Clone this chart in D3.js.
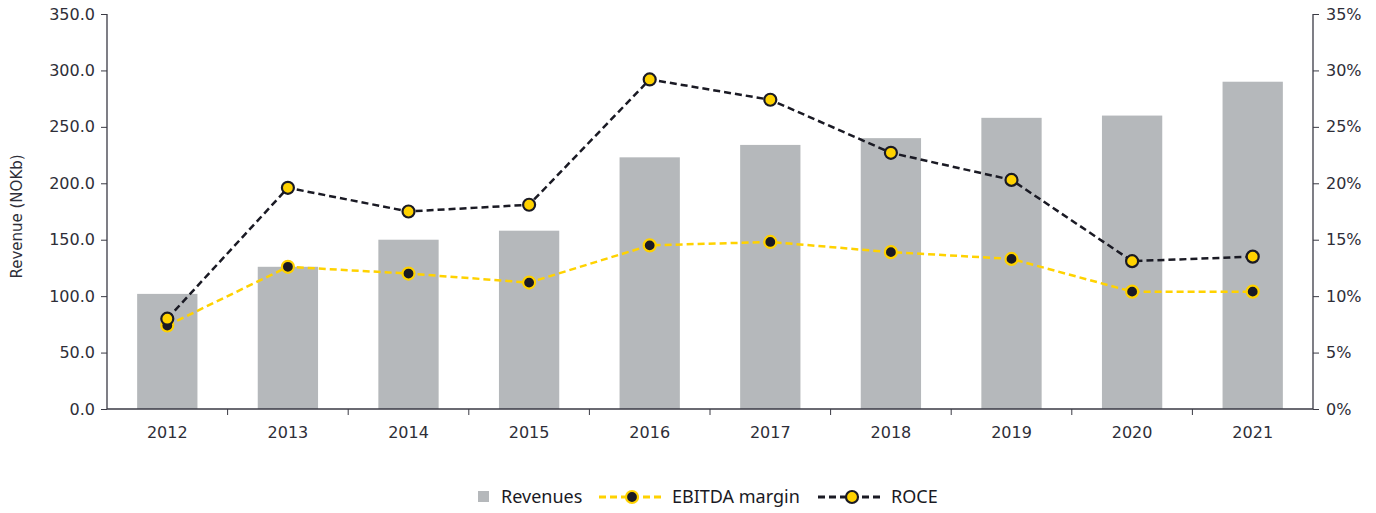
<!DOCTYPE html>
<html>
<head>
<meta charset="utf-8">
<script src="https://cdn.jsdelivr.net/npm/d3@7"></script>
<style>
  body { margin: 0; background: #fff; }
  svg text { font-family: "DejaVu Sans", Verdana, sans-serif; fill: #2e2e38; }
  .legend text { font-family: "Noto Sans", sans-serif; font-size: 18px; fill: #1a1a24; }
</style>
</head>
<body>
<svg id="chart" width="1376" height="513"></svg>
<script>
var years = ["2012","2013","2014","2015","2016","2017","2018","2019","2020","2021"];
var revenues = [102, 126, 150, 158, 223, 234, 240, 258, 260, 290];
var ebitdaMargin = [7.4, 12.6, 12.0, 11.2, 14.5, 14.8, 13.9, 13.3, 10.4, 10.4];
var roce = [8.0, 19.6, 17.5, 18.1, 29.2, 27.4, 22.7, 20.3, 13.1, 13.5];
var leftTicks = [0, 50, 100, 150, 200, 250, 300, 350];
var rightTicks = [0, 5, 10, 15, 20, 25, 30, 35];

var yellow = "#ffd200", dark = "#1a1a24", barGrey = "#b5b8bb", axisCol = "#3a3a44";

var m = {t:14, r:63, b:104, l:107},
    W = 1376, H = 513,
    w = W - m.l - m.r,
    h = H - m.t - m.b;

var svg = d3.select("#chart");
var g = svg.append("g").attr("transform", "translate(" + m.l + "," + m.t + ")");

var x = d3.scaleBand().domain(years).range([0, w]).paddingInner(0).paddingOuter(0);
var y = d3.scaleLinear().domain([0, 350]).range([h, 0]);
var y2 = d3.scaleLinear().domain([0, 35]).range([h, 0]);

// bars
g.selectAll(".bar")
  .data(years)
  .enter().append("rect")
  .attr("class", "bar")
  .attr("x", function(d) { return x(d) + x.bandwidth() * 0.25; })
  .attr("width", x.bandwidth() * 0.5)
  .attr("y", function(d, i) { return y(revenues[i]); })
  .attr("height", function(d, i) { return h - y(revenues[i]); })
  .attr("fill", barGrey);

// axes
var axL = g.append("g")
  .call(d3.axisLeft(y).tickValues(leftTicks).tickFormat(d3.format(".1f")).tickSize(6).tickPadding(6));
var axR = g.append("g").attr("transform", "translate(" + w + ",0)")
  .call(d3.axisRight(y2).tickValues(rightTicks).tickFormat(function(d) { return d + "%"; }).tickSize(6).tickPadding(7));
var axB = g.append("g").attr("transform", "translate(0," + h + ")")
  .call(d3.axisBottom(x).tickSize(0).tickPadding(18));

// x ticks at category boundaries
axB.selectAll(".bound")
  .data(d3.range(1, years.length))
  .enter().append("line")
  .attr("x1", function(i) { return i * x.step(); })
  .attr("x2", function(i) { return i * x.step(); })
  .attr("y1", 0).attr("y2", 6)
  .attr("stroke", axisCol);

[axL, axR, axB].forEach(function(a) {
  a.select(".domain").attr("stroke", axisCol).attr("stroke-width", 1.3);
  a.selectAll(".tick line").attr("stroke", axisCol);
  a.selectAll("text").attr("font-size", 16).attr("fill", "#2e2e38")
    .style("font-family", '"DejaVu Sans", Verdana, sans-serif');
});
axL.select(".domain").attr("d", "M0,0V" + h);
axR.select(".domain").attr("d", "M0,0V" + h);
axB.select(".domain").attr("d", "M0,0H" + w);

// y label
svg.append("text")
  .attr("transform", "translate(22," + (m.t + h / 2 + 5) + ") rotate(-90)")
  .attr("text-anchor", "middle")
  .attr("font-size", 15)
  .text("Revenue (NOKb)");

// lines
var cx = function(d, i) { return x(years[i]) + x.bandwidth() / 2; };
var line = function(vals) {
  return d3.line().x(function(d, i) { return x(years[i]) + x.bandwidth() / 2; })
    .y(function(d) { return y2(d); })(vals);
};

g.append("path").attr("d", line(ebitdaMargin))
  .attr("fill", "none").attr("stroke", yellow).attr("stroke-width", 2.5).attr("stroke-dasharray", "7,4");
g.append("path").attr("d", line(roce))
  .attr("fill", "none").attr("stroke", dark).attr("stroke-width", 2.5).attr("stroke-dasharray", "7,4");

g.selectAll(".mE").data(ebitdaMargin).enter().append("circle")
  .attr("cx", cx).attr("cy", function(d) { return y2(d); }).attr("r", 6)
  .attr("fill", dark).attr("stroke", yellow).attr("stroke-width", 2.2);
g.selectAll(".mR").data(roce).enter().append("circle")
  .attr("cx", cx).attr("cy", function(d) { return y2(d); }).attr("r", 6)
  .attr("fill", yellow).attr("stroke", dark).attr("stroke-width", 2.2);

// legend
var lg = svg.append("g").attr("class", "legend").attr("transform", "translate(0,497)");
lg.append("rect").attr("x", 478).attr("y", -6).attr("width", 11).attr("height", 11).attr("fill", barGrey);
lg.append("text").attr("x", 501).attr("y", 6).text("Revenues");

lg.append("line").attr("x1", 599).attr("x2", 662).attr("y1", 0).attr("y2", 0)
  .attr("stroke", yellow).attr("stroke-width", 2.8).attr("stroke-dasharray", "7,4");
lg.append("circle").attr("cx", 632).attr("cy", 0).attr("r", 6)
  .attr("fill", dark).attr("stroke", yellow).attr("stroke-width", 2.2);
lg.append("text").attr("x", 672).attr("y", 6).text("EBITDA margin");

lg.append("line").attr("x1", 818).attr("x2", 884).attr("y1", 0).attr("y2", 0)
  .attr("stroke", dark).attr("stroke-width", 2.8).attr("stroke-dasharray", "7,4");
lg.append("circle").attr("cx", 852).attr("cy", 0).attr("r", 6)
  .attr("fill", yellow).attr("stroke", dark).attr("stroke-width", 2.2);
lg.append("text").attr("x", 891).attr("y", 6).text("ROCE");
</script>
</body>
</html>
